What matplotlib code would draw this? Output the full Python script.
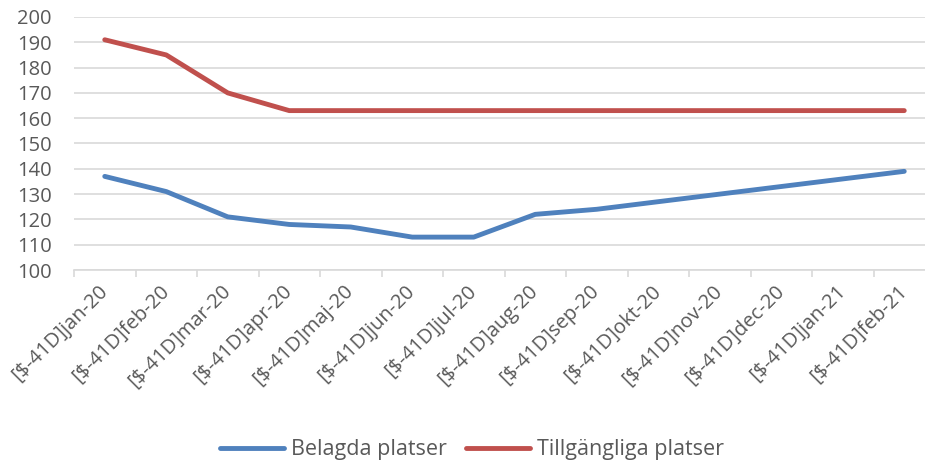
import matplotlib

matplotlib.use("Agg")
import matplotlib.pyplot as plt
import numpy as np
from matplotlib.ticker import FixedLocator

plt.rcParams["font.family"] = ["Open Sans", "DejaVu Sans"]

# 数据
months = ["jan-20", "feb-20", "mar-20", "apr-20", "maj-20", "jun-20", "jul-20",
          "aug-20", "sep-20", "okt-20", "nov-20", "dec-20", "jan-21", "feb-21"]
tick_labels = ["[$-41D]" + m for m in months]
belagda = [137, 131, 121, 118, 117, 113, 113, 122, 124, 127, 130, 133, 136, 139]
tillgangliga = [191, 185, 170, 163, 163, 163, 163, 163, 163, 163, 163, 163, 163, 163]

W, H = 925, 461
fig = plt.figure(figsize=(W / 100, H / 100), dpi=100)
left, right, top, bottom = 74, 935, 17, 270
ax = fig.add_axes([left / W, 1 - bottom / H, (right - left) / W, (bottom - top) / H])

x = np.arange(len(months))
ax.plot(x, belagda, color="#4F81BD", linewidth=3.5, solid_capstyle="round",
        solid_joinstyle="round", label="Belagda platser", zorder=3)
ax.plot(x, tillgangliga, color="#C0504D", linewidth=3.5, solid_capstyle="round",
        solid_joinstyle="round", label="Tillgängliga platser", zorder=3)

ax.set_xlim(-0.5, len(months) - 0.5)
ax.set_ylim(100, 200)
ax.set_yticks(range(100, 201, 10))
ax.yaxis.grid(True, color="#D9D9D9", linewidth=1.2)
ax.set_axisbelow(True)

for s in ["left", "right", "top"]:
    ax.spines[s].set_visible(False)
ax.spines["bottom"].set_color("#D9D9D9")
ax.spines["bottom"].set_linewidth(1.2)

ax.tick_params(axis="y", length=0, pad=16, labelsize=14.5, labelcolor="#595959")
ax.set_xticks(x)
ax.set_xticklabels(tick_labels, rotation=45, ha="right", va="center",
                   rotation_mode="anchor", fontsize=14.5, color="#595959")
ax.tick_params(axis="x", which="major", length=0, pad=13)
ax.xaxis.set_minor_locator(FixedLocator(np.arange(-0.5, len(months), 1.0)))
ax.tick_params(axis="x", which="minor", length=5, width=1.2, color="#D9D9D9")

fig.legend(loc="lower center", ncol=2, frameon=False, fontsize=15.5,
           bbox_to_anchor=(0.51, -0.04), handlelength=3.0, handletextpad=0.3,
           columnspacing=0.9, labelcolor="#595959")

fig.savefig("out.png", dpi=100)
